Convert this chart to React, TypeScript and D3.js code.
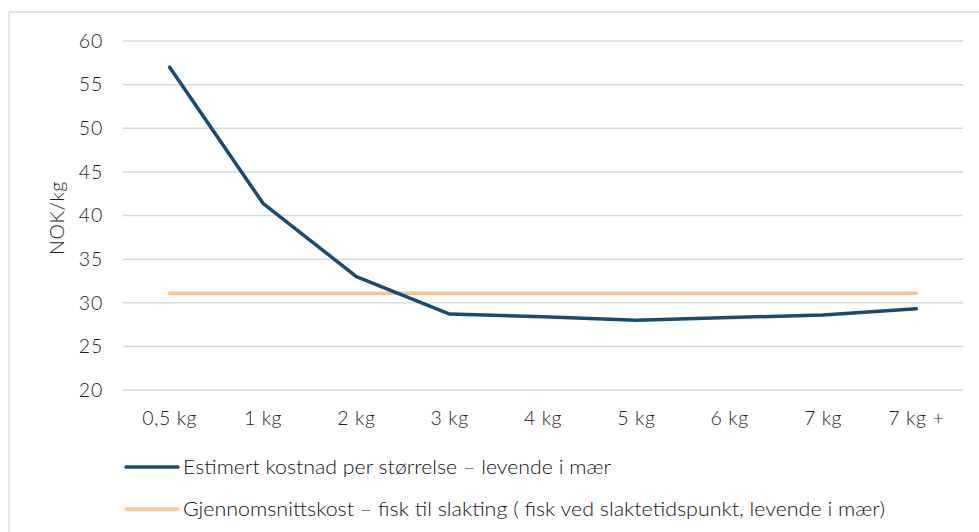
import React from "react";
import * as d3 from "d3";

const categories = ["0,5 kg", "1 kg", "2 kg", "3 kg", "4 kg", "5 kg", "6 kg", "7 kg", "7 kg +"];
const estimertKostnad = [57.0, 41.4, 33.0, 28.7, 28.4, 28.0, 28.3, 28.6, 29.3];
const gjennomsnittKost = [31.1, 31.1, 31.1, 31.1, 31.1, 31.1, 31.1, 31.1, 31.1];
const yTicks = [20, 25, 30, 35, 40, 45, 50, 55, 60];
const seriesNames = [
  "Estimert kostnad per størrelse – levende i mær",
  "Gjennomsnittskost – fisk til slakting ( fisk ved slaktetidspunkt, levende i mær)",
];
const yTitle = "NOK/kg";

const W = 979;
const H = 532;
const FONT = "Lato, 'Open Sans', sans-serif";
const BLUE = "#174B72";
const ORANGE = "#FDC38E";
const TXT = "#222222";

export default function App() {
  const x = d3.scaleBand<string>().domain(categories).range([123, 963]);
  const y = d3.scaleLinear().domain([20, 60]).range([390, 41]);
  const cx = (c: string) => (x(c) as number) + x.bandwidth() / 2;
  const line = d3
    .line<number>()
    .x((_, i) => cx(categories[i]))
    .y((d) => y(d));

  return (
    <svg
      width={W}
      height={H}
      style={{ position: "absolute", left: 0, top: 0, background: "#fff" }}
      fontFamily={FONT}
      fontWeight={300}
    >
      <rect x={0} y={0} width={W} height={H} fill="#fff" />
      {/* chart border */}
      <line x1={9} y1={12} x2={W} y2={12} stroke="#d9d9d9" strokeWidth={1.5} />
      <line x1={9} y1={12} x2={9} y2={H} stroke="#d9d9d9" strokeWidth={1.5} />
      {/* gridlines */}
      {yTicks.map((t) => (
        <line key={t} x1={123} x2={963} y1={y(t)} y2={y(t)} stroke="#d9d9d9" strokeWidth={1.5} />
      ))}
      {/* y tick labels */}
      {yTicks.map((t) => (
        <text key={"l" + t} x={103} y={y(t)} dy="0.35em" textAnchor="end" fontSize={19.5} letterSpacing={0.8} fill={TXT}>
          {t}
        </text>
      ))}
      {/* x tick labels */}
      {categories.map((c) => (
        <text key={c} x={cx(c)} y={418} dy="0.35em" textAnchor="middle" fontSize={19.5} letterSpacing={0.6} fill={TXT}>
          {c}
        </text>
      ))}
      {/* y title */}
      <text
        transform="translate(57,218) rotate(-90)"
        textAnchor="middle"
        dy="0.35em"
        fontSize={19.5}
        letterSpacing={0.6}
        fill={TXT}
      >
        {yTitle}
      </text>
      {/* series */}
      <path d={line(gjennomsnittKost) || ""} fill="none" stroke={ORANGE} strokeWidth={3.5} strokeLinecap="round" />
      <path d={line(estimertKostnad) || ""} fill="none" stroke={BLUE} strokeWidth={3.5} strokeLinecap="round" strokeLinejoin="round" />
      {/* legend */}
      {[BLUE, ORANGE].map((col, i) => (
        <g key={col} transform={`translate(0,${467 + i * 42})`}>
          <line x1={126} x2={178} y1={0} y2={0} stroke={col} strokeWidth={3.5} strokeLinecap="round" />
          <text
            x={183}
            y={0}
            dy="0.35em"
            fontSize={19.5}
            fill="#111111"
            textLength={i === 0 ? 428 : 702}
            lengthAdjust="spacingAndGlyphs"
          >
            {seriesNames[i]}
          </text>
        </g>
      ))}
    </svg>
  );
}
